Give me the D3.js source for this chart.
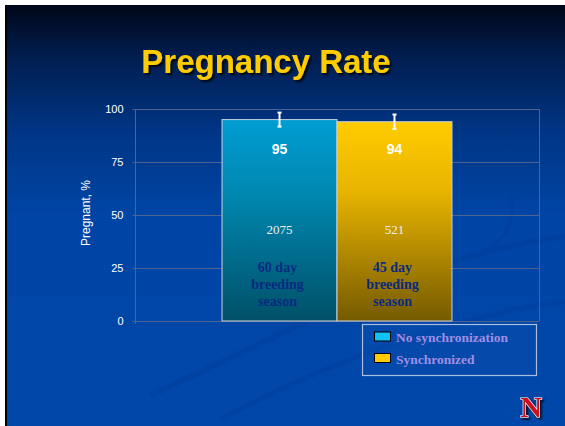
<!DOCTYPE html>
<html>
<head>
<meta charset="utf-8">
<script src="https://cdn.jsdelivr.net/npm/d3@7"></script>
<style>
  html, body { margin: 0; padding: 0; background: #fff; }
  svg { display: block; }
</style>
</head>
<body>
<svg id="chart"></svg>
<script>
// chart values
var groups = ["No synchronization", "Synchronized"];
var pregnancyRate = [95, 94];
var errorSize = [3.3, 3.4];
var cowCounts = ["2075", "521"];
var seasonLabels = [["60 day", "breeding", "season"], ["45 day", "breeding", "season"]];
var yTicks = [0, 25, 50, 75, 100];

var screen = {width: 565, height: 426};
var plot = {left: 135, right: 539, top: 109, bottom: 321};

var svg = d3.select("#chart")
    .attr("width", screen.width)
    .attr("height", screen.height);

var defs = svg.append("defs");

// slide background
var bg = defs.append("linearGradient").attr("id", "bg")
    .attr("x1", 0).attr("y1", 0).attr("x2", 0).attr("y2", 1);
bg.append("stop").attr("offset", "0%").attr("stop-color", "#000618");
bg.append("stop").attr("offset", "12%").attr("stop-color", "#011d4e");
bg.append("stop").attr("offset", "30%").attr("stop-color", "#003585");
bg.append("stop").attr("offset", "50%").attr("stop-color", "#0045a5");
bg.append("stop").attr("offset", "100%").attr("stop-color", "#0047aa");

var barColors = [["#009dd2", "#0089b3", "#005068"], ["#ffcc00", "#e8b400", "#755a00"]];
barColors.forEach(function(c, i) {
    var g = defs.append("linearGradient").attr("id", "bar" + i)
        .attr("x1", 0).attr("y1", 0).attr("x2", 0).attr("y2", 1);
    g.append("stop").attr("offset", "0%").attr("stop-color", c[0]);
    g.append("stop").attr("offset", "35%").attr("stop-color", c[1]);
    g.append("stop").attr("offset", "100%").attr("stop-color", c[2]);
});

var shadow = defs.append("filter").attr("id", "shadow")
    .attr("x", "-10%").attr("y", "-10%").attr("width", "130%").attr("height", "140%");
shadow.append("feDropShadow").attr("dx", 2).attr("dy", 2).attr("stdDeviation", 1)
    .attr("flood-color", "#000").attr("flood-opacity", 0.85);

svg.append("rect").attr("x", 0).attr("y", 0)
    .attr("width", screen.width).attr("height", screen.height).attr("fill", "#fff");
svg.append("rect").attr("x", 5).attr("y", 5)
    .attr("width", screen.width - 5).attr("height", screen.height - 5).attr("fill", "url(#bg)");
svg.append("rect").attr("x", 5).attr("y", 5)
    .attr("width", 2).attr("height", screen.height - 5).attr("fill", "#000");

// faint swooshes in the background
var swoosh = svg.append("g").attr("fill", "none").attr("stroke", "#003f9c").attr("stroke-opacity", 0.6);
swoosh.append("path").attr("stroke-width", 6)
    .attr("d", "M150,395 C300,330 420,250 580,235");
swoosh.append("path").attr("stroke-width", 5)
    .attr("d", "M220,420 C330,360 470,310 580,300");
swoosh.append("path").attr("stroke-width", 4)
    .attr("d", "M505,180 C520,215 510,245 470,255");

// title
svg.append("text")
    .attr("x", 266).attr("y", 73)
    .attr("text-anchor", "middle")
    .attr("font-family", "Liberation Sans, Arial, sans-serif")
    .attr("font-weight", "bold")
    .attr("font-size", 33)
    .attr("fill", "#ffcc00")
    .attr("filter", "url(#shadow)")
    .text("Pregnancy Rate");

var xScale = d3.scaleBand()
    .domain(groups)
    .range([plot.left, plot.right])
    .paddingInner(0)
    .paddingOuter(0.757);

var yScale = d3.scaleLinear()
    .domain([0, 100])
    .range([plot.bottom, plot.top]);

// grid and frame
var gridColor = "#4f6390";
var grid = svg.append("g").attr("stroke", gridColor).attr("stroke-width", 1);
grid.selectAll("line").data(yTicks).enter().append("line")
    .attr("x1", plot.left).attr("x2", plot.right)
    .attr("y1", function(d) { return Math.round(yScale(d)) + 0.5; })
    .attr("y2", function(d) { return Math.round(yScale(d)) + 0.5; });
grid.append("line")
    .attr("x1", plot.right + 0.5).attr("x2", plot.right + 0.5)
    .attr("y1", plot.top).attr("y2", plot.bottom);

var yAxis = svg.append("g")
    .attr("transform", "translate(" + (plot.left + 0.5) + ",0)")
    .call(d3.axisLeft(yScale).tickValues(yTicks).tickSize(3).tickPadding(9));
yAxis.select(".domain").attr("stroke", gridColor).attr("d", "M0," + plot.top + "V" + (plot.bottom + 3));
yAxis.selectAll(".tick line").attr("stroke", gridColor);
yAxis.selectAll(".tick text")
    .attr("fill", "#fff")
    .attr("font-family", "Liberation Sans, Arial, sans-serif")
    .attr("font-size", 11);

svg.append("text")
    .attr("transform", "translate(90,213) rotate(-90)")
    .attr("text-anchor", "middle")
    .attr("font-family", "Liberation Sans, Arial, sans-serif")
    .attr("font-size", 12)
    .attr("fill", "#fff")
    .text("Pregnant, %");

// bars
var bars = svg.append("g");
bars.selectAll("rect").data(groups).enter().append("rect")
    .attr("x", function(d) { return xScale(d); })
    .attr("y", function(d, i) { return yScale(pregnancyRate[i]); })
    .attr("width", xScale.bandwidth())
    .attr("height", function(d, i) { return yScale(0) - yScale(pregnancyRate[i]); })
    .attr("fill", function(d, i) { return "url(#bar" + i + ")"; })
    .attr("stroke", "#c8d0dc")
    .attr("stroke-width", 1);

// error bars
var err = svg.append("g").attr("stroke", "#fff").attr("stroke-width", 2);
groups.forEach(function(g, i) {
    var cx = xScale(g) + xScale.bandwidth() / 2;
    var hi = yScale(pregnancyRate[i] + errorSize[i]);
    var lo = yScale(pregnancyRate[i] - errorSize[i]);
    err.append("line").attr("x1", cx).attr("x2", cx).attr("y1", hi).attr("y2", lo);
    err.append("line").attr("x1", cx - 2).attr("x2", cx + 2).attr("y1", hi).attr("y2", hi);
    err.append("line").attr("x1", cx - 2).attr("x2", cx + 2).attr("y1", lo).attr("y2", lo);
});

// labels inside bars
var labels = svg.append("g").attr("text-anchor", "middle");
groups.forEach(function(g, i) {
    var cx = xScale(g) + xScale.bandwidth() / 2;
    labels.append("text")
        .attr("x", cx).attr("y", 154)
        .attr("font-family", "Liberation Sans, Arial, sans-serif")
        .attr("font-weight", "bold").attr("font-size", 14)
        .attr("fill", "#fff")
        .text(pregnancyRate[i]);
    labels.append("text")
        .attr("x", cx).attr("y", 234)
        .attr("font-family", "Liberation Serif, Times New Roman, serif")
        .attr("font-size", 13)
        .attr("fill", "#f0f0f0")
        .text(cowCounts[i]);
    seasonLabels[i].forEach(function(line, j) {
        labels.append("text")
            .attr("x", cx - 2).attr("y", 272 + j * 17)
            .attr("font-family", "Liberation Serif, Times New Roman, serif")
            .attr("font-weight", "bold").attr("font-size", 14)
            .attr("fill", "#0a2a80")
            .text(line);
    });
});

// legend
var legend = svg.append("g");
legend.append("rect")
    .attr("x", 362.5).attr("y", 324.5).attr("width", 174).attr("height", 51)
    .attr("fill", "#0a4cac").attr("fill-opacity", 0.5)
    .attr("stroke", "#a9bde0").attr("stroke-width", 1.2);
var legendSwatch = ["#11c3f2", "#ffcc00"];
groups.forEach(function(g, i) {
    legend.append("rect")
        .attr("x", 374.5).attr("y", 332 + i * 21.5)
        .attr("width", 16).attr("height", 9)
        .attr("fill", legendSwatch[i])
        .attr("stroke", "#000").attr("stroke-width", 1);
    legend.append("text")
        .attr("x", 396).attr("y", 342 + i * 21.5)
        .attr("font-family", "Liberation Serif, Times New Roman, serif")
        .attr("font-weight", "bold").attr("font-size", 13.5)
        .attr("fill", "#a08ee6")
        .text(g);
});

// N logo
svg.append("text")
    .attr("x", 531).attr("y", 417)
    .attr("text-anchor", "middle")
    .attr("font-family", "Liberation Serif, Times New Roman, serif")
    .attr("font-weight", "bold").attr("font-size", 30)
    .attr("fill", "#d0101a")
    .attr("stroke", "#fff").attr("stroke-width", 1.2)
    .attr("paint-order", "stroke")
    .attr("filter", "url(#shadow)")
    .text("N");
</script>
</body>
</html>
